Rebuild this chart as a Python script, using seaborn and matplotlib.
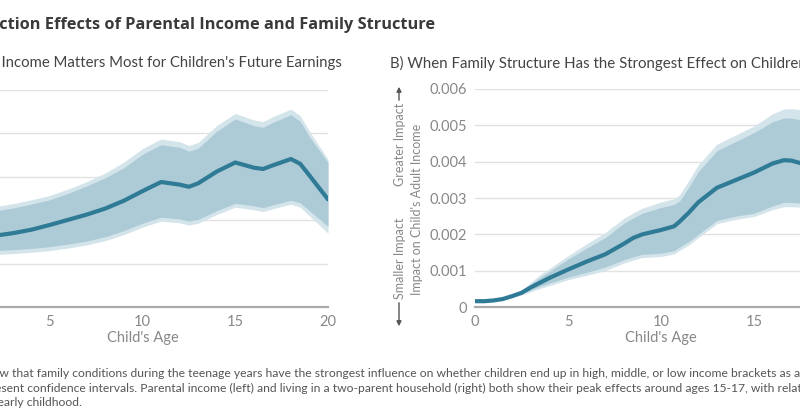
import matplotlib
matplotlib.use('Agg')
import matplotlib.pyplot as plt
import seaborn as sns

# ---- data ----
# left panel: parental income (y units = one gridline step, labels are cut off)
left_age = [0, 1, 2, 3, 4, 5, 6, 7, 8, 9, 10, 11, 12, 12.5, 13, 14, 15, 16, 16.5, 17, 18, 18.5, 19, 20]
left_est = [1.58, 1.60, 1.64, 1.70, 1.78, 1.89, 2.01, 2.13, 2.27, 2.45, 2.67, 2.88, 2.82, 2.77,
            2.85, 3.12, 3.33, 3.21, 3.18, 3.26, 3.41, 3.30, 3.03, 2.48]
left_in_hi = [2.10, 2.15, 2.21, 2.28, 2.37, 2.47, 2.62, 2.79, 2.98, 3.21, 3.52, 3.74, 3.68, 3.59,
              3.66, 4.05, 4.33, 4.18, 4.14, 4.25, 4.43, 4.28, 3.92, 3.33]
left_in_lo = [1.25, 1.27, 1.30, 1.32, 1.35, 1.39, 1.45, 1.52, 1.62, 1.76, 1.93, 2.07, 2.03, 1.98,
              2.02, 2.22, 2.39, 2.33, 2.29, 2.35, 2.46, 2.40, 2.22, 1.86]
left_out_hi = [2.20, 2.25, 2.31, 2.38, 2.47, 2.57, 2.72, 2.89, 3.09, 3.34, 3.65, 3.87, 3.81, 3.72,
               3.79, 4.18, 4.46, 4.31, 4.27, 4.38, 4.56, 4.41, 4.05, 3.40]
left_out_lo = [1.16, 1.18, 1.21, 1.23, 1.26, 1.30, 1.36, 1.43, 1.53, 1.67, 1.84, 1.98, 1.94, 1.89,
               1.93, 2.13, 2.30, 2.24, 2.20, 2.26, 2.37, 2.30, 2.10, 1.70]

# right panel: two-parent household
right_age = [0, 0.5, 1, 1.5, 2, 2.5, 3, 3.5, 4, 5, 6, 7, 8, 8.5, 9, 10, 10.7, 11, 11.5, 12,
             13, 14, 15, 16, 16.6, 17, 17.5, 18]
right_est = [0.00016, 0.00016, 0.00018, 0.00022, 0.00030, 0.00039, 0.00054, 0.00067, 0.00080,
             0.00103, 0.00125, 0.00145, 0.00174, 0.00190, 0.00200, 0.00212, 0.00222, 0.00235,
             0.00260, 0.00288, 0.00328, 0.00349, 0.00370, 0.00395, 0.00404, 0.00403, 0.00396, 0.00388]
right_in_hi = [0.00016, 0.00016, 0.00018, 0.00023, 0.00031, 0.00041, 0.00062, 0.00082, 0.00098,
               0.00132, 0.00162, 0.00191, 0.00230, 0.00245, 0.00258, 0.00274, 0.00282, 0.00292,
               0.00330, 0.00372, 0.00430, 0.00455, 0.00480, 0.00510, 0.00520, 0.00520, 0.00515, 0.00510]
right_in_lo = [0.00016, 0.00016, 0.00017, 0.00021, 0.00028, 0.00036, 0.00047, 0.00057, 0.00066,
               0.00082, 0.00095, 0.00110, 0.00130, 0.00138, 0.00145, 0.00148, 0.00155, 0.00165,
               0.00180, 0.00200, 0.00238, 0.00250, 0.00258, 0.00278, 0.00288, 0.00288, 0.00286, 0.00284]
right_out_hi = [0.00016, 0.00016, 0.00018, 0.00024, 0.00033, 0.00045, 0.00068, 0.00089, 0.00106,
                0.00141, 0.00174, 0.00205, 0.00244, 0.00259, 0.00272, 0.00289, 0.00298, 0.00309,
                0.00349, 0.00391, 0.00448, 0.00473, 0.00498, 0.00532, 0.00545, 0.00546, 0.00543, 0.00538]
right_out_lo = [0.00016, 0.00016, 0.00017, 0.00020, 0.00026, 0.00033, 0.00042, 0.00051, 0.00059,
                0.00075, 0.00087, 0.00100, 0.00121, 0.00129, 0.00136, 0.00139, 0.00146, 0.00156,
                0.00171, 0.00191, 0.00229, 0.00241, 0.00249, 0.00268, 0.00276, 0.00276, 0.00275, 0.00273]

x_ticks = [0, 5, 10, 15, 20]
right_y_ticks = [0, 0.001, 0.002, 0.003, 0.004, 0.005, 0.006]
right_y_labels = ['0', '0.001', '0.002', '0.003', '0.004', '0.005', '0.006']

# ---- style ----
LINE = '#2f7b96'
INNER = '#adcbd7'
OUTER = '#d4e4eb'
GRID = '#e2e2e2'
TICK = '#888888'

sns.set_theme(style='white')
plt.rcParams['font.family'] = ['Lato', 'DejaVu Sans']

W, H = 800, 419
fig = plt.figure(figsize=(W / 100, H / 100), dpi=100, facecolor='white')


def box(x0, x1, y_top, y_bot):
    # axes rectangle given in image pixels (y from top)
    return [x0 / W, 1 - y_bot / H, (x1 - x0) / W, (y_bot - y_top) / H]


ax1 = fig.add_axes(box(-43, 328, 90, 307))
ax2 = fig.add_axes(box(475, 847, 89, 307))


def draw_panel(ax, age, est, in_lo, in_hi, out_lo, out_hi):
    ax.fill_between(age, out_lo, out_hi, color=OUTER, lw=0, zorder=1)
    ax.fill_between(age, in_lo, in_hi, color=INNER, lw=0, zorder=2)
    sns.lineplot(x=age, y=est, ax=ax, color=LINE, lw=3, zorder=3,
                 solid_capstyle='round')
    ax.set_xlim(0, 20)
    ax.set_xticks(x_ticks)
    ax.yaxis.grid(True, color=GRID, lw=1)
    ax.set_axisbelow(True)
    for s in ['top', 'right', 'left']:
        ax.spines[s].set_visible(False)
    ax.spines['bottom'].set_color('#aaaaaa')
    ax.spines['bottom'].set_linewidth(1.6)
    ax.tick_params(length=0, labelsize=10.5, labelcolor=TICK, pad=6)
    ax.set_xlabel("Child's Age", fontsize=10.5, color=TICK, labelpad=1)
    ax.set_ylabel('')
    ax.set_facecolor('none')


draw_panel(ax1, left_age, left_est, left_in_lo, left_in_hi, left_out_lo, left_out_hi)
ax1.set_ylim(0, 5)
ax1.set_yticks([0, 1, 2, 3, 4, 5])
ax1.set_yticklabels([])

draw_panel(ax2, right_age, right_est, right_in_lo, right_in_hi, right_out_lo, right_out_hi)
ax2.set_ylim(0, 0.006)
ax2.set_yticks(right_y_ticks)
ax2.set_yticklabels(right_y_labels)

# y-axis labels and arrows of the right panel
side_kw = dict(rotation=90, ha='center', va='center', fontsize=9.0, color=TICK)
fig.text(417 / W, 1 - 209 / H, "Impact on Child's Adult Income", **side_kw)
fig.text(400 / W, 1 - 144 / H, 'Greater Impact', **side_kw)
fig.text(400 / W, 1 - 258 / H, 'Smaller Impact', **side_kw)
ax2.annotate('', xy=(399, H - 84), xytext=(399, H - 103), xycoords='figure pixels',
             textcoords='figure pixels', annotation_clip=False,
             arrowprops=dict(arrowstyle='-|>', color='#555555', lw=1, mutation_scale=7))
ax2.annotate('', xy=(399, H - 329), xytext=(399, H - 300), xycoords='figure pixels',
             textcoords='figure pixels', annotation_clip=False,
             arrowprops=dict(arrowstyle='-|>', color='#555555', lw=1, mutation_scale=7))

# texts that run off the left edge of the picture
renderer = fig.canvas.get_renderer()


def clipped_text(hidden, shown, x_px, y_px, **kw):
    full = fig.text(0, 0, hidden + shown, **kw)
    part = fig.text(0, 0, shown, **kw)
    w = full.get_window_extent(renderer).width - part.get_window_extent(renderer).width
    full.remove()
    part.remove()
    fig.text((x_px - w) / W, 1 - y_px / H, hidden + shown, ha='left', va='center', **kw)


clipped_text('Figure 3: Intera', 'ction Effects of Parental Income and Family Structure',
             -1, 25, fontsize=11.8, fontweight='bold', color='#3a3a3a',
             family=['Open Sans', 'DejaVu Sans'])
clipped_text('A) When Parental ', "Income Matters Most for Children's Future Earnings",
             1, 62, fontsize=10.7, color='#444444')
fig.text(390 / W, 1 - 63 / H,
         "B) When Family Structure Has the Strongest Effect on Children's Future Earnings",
         ha='left', va='center', fontsize=10.8, color='#444444')

cap_kw = dict(fontsize=8.7, color='#555555')
clipped_text('Note: These results sho',
             'w that family conditions during the teenage years have the strongest influence on '
             'whether children end up in high, middle, or low income brackets as adults. Shaded areas',
             -1, 373, **cap_kw)
clipped_text('Shaded areas repre',
             'sent confidence intervals. Parental income (left) and living in a two-parent household '
             '(right) both show their peak effects around ages 15-17, with relatively smaller effects in',
             1, 388, **cap_kw)
clipped_text('effects in ', 'early childhood.', -2, 402, **cap_kw)

fig.savefig('out.png', dpi=100, facecolor='white')
